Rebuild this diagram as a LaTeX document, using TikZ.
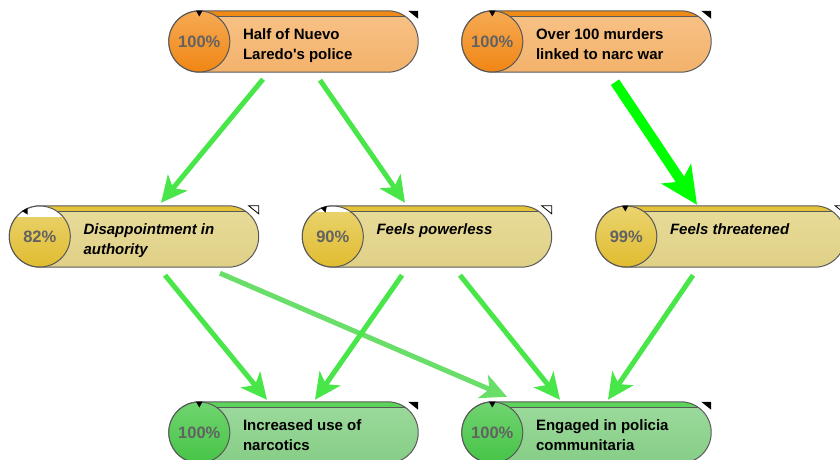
\documentclass[tikz,border=0pt]{standalone}
\usepackage{fontspec}
\setmainfont{Liberation Sans}
\usetikzlibrary{arrows.meta,calc}

\definecolor{edgegray}{RGB}{88,88,88}
\definecolor{pctgray}{RGB}{98,98,98}
\definecolor{linkgreen}{RGB}{72,230,72}
\definecolor{linklight}{RGB}{105,222,105}
\definecolor{linkstrong}{RGB}{0,255,0}
% orange boxes
\definecolor{orgbodya}{RGB}{247,194,134}
\definecolor{orgbodyb}{RGB}{243,178,108}
\definecolor{orgstripe}{RGB}{240,138,22}
\definecolor{orgcirca}{RGB}{246,170,84}
\definecolor{orgcircb}{RGB}{240,134,20}
% khaki boxes
\definecolor{khabodya}{RGB}{232,220,154}
\definecolor{khabodyb}{RGB}{223,208,134}
\definecolor{khastripe}{RGB}{228,194,58}
\definecolor{khacirca}{RGB}{234,212,112}
\definecolor{khacircb}{RGB}{225,188,48}
% green boxes
\definecolor{grnbodya}{RGB}{156,218,156}
\definecolor{grnbodyb}{RGB}{134,205,134}
\definecolor{grnstripe}{RGB}{92,212,92}
\definecolor{grncirca}{RGB}{112,212,112}
\definecolor{grncircb}{RGB}{70,196,70}

\tikzset{
  pill/.style={rectangle, rounded corners=30.5pt, minimum width=249pt, minimum height=61pt, inner sep=0pt},
  pillborder/.style={draw=edgegray, line width=1pt, rounded corners=30.5pt},
  pctcirc/.style={circle, minimum size=61pt, inner sep=0pt},
  pcttext/.style={text=pctgray, font=\fontsize{16.5pt}{18pt}\selectfont\bfseries},
  pilltext/.style={anchor=north west, inner sep=0pt, align=left, font=\fontsize{15pt}{20pt}\selectfont\bfseries},
  orgtxt/.style={}, grntxt/.style={},
  khatxt/.style={font=\fontsize{15pt}{20pt}\selectfont\bfseries\itshape},
  orgcorner/.style={fill=black}, grncorner/.style={fill=black},
  khacorner/.style={fill=white, draw=black, line width=0.8pt},
  link/.style={draw=linkgreen, line width=5pt, -{Stealth[length=26pt,width=25pt,inset=7pt]}},
  faintlink/.style={link, draw=linklight},
  stronglink/.style={draw=linkstrong, line width=10pt, -{Stealth[length=37pt,width=35pt,inset=9pt]}}
}

% #1 name, #2 centre, #3 percentage, #4 level, #5 marker angle, #6 palette, #7 text
\newcommand{\pillnode}[7]{%
  \node[pill, top color=#6bodya, bottom color=#6bodyb] (#1) at (#2) {};
  \begin{scope}
    \clip[rounded corners=30.5pt] (#1.south west) rectangle (#1.north east);
    \fill[#6stripe] (#1.north west) rectangle ([yshift=-6pt]#1.north east);
    \draw[edgegray, line width=0.8pt] ([yshift=-6pt]#1.north west) -- ([yshift=-6pt]#1.north east);
  \end{scope}
  \draw[pillborder] (#1.south west) rectangle (#1.north east);
  \fill[#6corner] ([xshift=-10pt]#1.north east) -- (#1.north east) -- ([yshift=-8pt]#1.north east) -- cycle;
  \node[pctcirc, top color=#6circa, bottom color=#6circb] (#1c) at ([xshift=30.5pt]#1.west) {};
  \begin{scope}
    \clip (#1c) circle[radius=30.5pt];
    \fill[white] ([xshift=-31pt,yshift=1pt]#1c.north) rectangle ([xshift=31pt,yshift={(#4-1)*61pt}]#1c.north);
  \end{scope}
  \draw[edgegray, line width=1pt] (#1c) circle[radius=30.5pt];
  \fill[black] ([shift={(#5:25pt)}]#1c.center) -- ([shift={(#5-6:31pt)}]#1c.center) -- ([shift={(#5+6:31pt)}]#1c.center) -- cycle;
  \node[pcttext] (#1p) at (#1c) {#3};
  \node[pilltext, #6txt] (#1t) at ([xshift=74pt,yshift=-18pt]#1.north west) {#7};
}

\begin{document}
\begin{tikzpicture}[x=1pt, y=-1pt]
  \useasboundingbox (0,0) rectangle (840,460);
  \clip (0,0) rectangle (840,460);
  % boxes
  \pillnode{half}{293.5,41.5}{100\%}{1}{90}{org}{Half of Nuevo\\Laredo\textquotesingle s police}
  \pillnode{murders}{586.5,41.5}{100\%}{1}{90}{org}{Over 100 murders\\linked to narc war}
  \pillnode{disappoint}{134,236.5}{82\%}{0.82}{119}{kha}{Disappointment in\\authority}
  \pillnode{powerless}{427,236.5}{90\%}{0.9}{107}{kha}{Feels powerless}
  \pillnode{threatened}{720.5,236.5}{99\%}{0.99}{92}{kha}{Feels threatened}
  \pillnode{narcotics}{293.5,432.5}{100\%}{1}{90}{grn}{Increased use of\\narcotics}
  \pillnode{policia}{586.5,432.5}{100\%}{1}{90}{grn}{Engaged in policia\\communitaria}
  % links
  \draw[link] ([xshift=-30.5pt,yshift=-7pt]half.south) -- ([xshift=27pt,yshift=3pt]disappoint.north);
  \draw[link] ([xshift=26.5pt,yshift=-8pt]half.south) -- ([xshift=-22pt,yshift=3pt]powerless.north);
  \draw[stronglink] ([xshift=28.5pt,yshift=-10pt]murders.south) -- ([xshift=-23.5pt,yshift=1pt]threatened.north);
  \draw[link] ([xshift=31pt,yshift=-8pt]disappoint.south) -- ([xshift=-26.5pt,yshift=2pt]narcotics.north);
  \draw[faintlink] ([xshift=86pt,yshift=-6pt]disappoint.south) -- ([xshift=-79.5pt,yshift=5pt]policia.north);
  \draw[link] ([xshift=-25pt,yshift=-8pt]powerless.south) -- ([xshift=21.5pt,yshift=2pt]narcotics.north);
  \draw[link] ([xshift=33pt,yshift=-8pt]powerless.south) -- ([xshift=-26.5pt,yshift=2pt]policia.north);
  \draw[link] ([xshift=-27.5pt,yshift=-8pt]threatened.south) -- ([xshift=21.5pt,yshift=2pt]policia.north);
\end{tikzpicture}
\end{document}
